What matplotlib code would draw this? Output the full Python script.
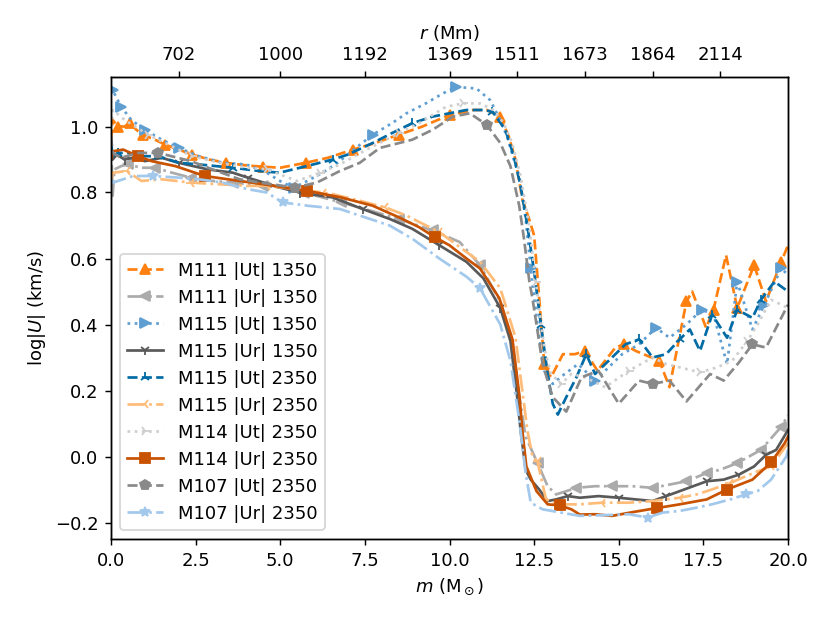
import numpy as np
import matplotlib
matplotlib.use('Agg')
import matplotlib.pyplot as plt

# mass coordinate (M_sun) and log|U|, one pair per run
m111_ut_1350_m = [0.0, 0.05, 0.2, 0.4, 0.56, 0.75, 0.94, 1.3, 1.6, 2.0, 2.4, 2.9, 3.4, 4.0, 4.5, 5.0, 5.75, 6.4,
                  7.15, 7.8, 8.5, 9.2, 10.0, 10.7, 11.1, 11.5, 11.75, 11.95, 12.15, 12.35, 12.5, 12.65, 12.8, 13.0,
                  13.35, 13.7, 14.0, 14.37, 14.9, 15.15, 15.5, 16.2, 16.5, 17.0, 17.17, 17.58, 17.8, 18.17, 18.5,
                  19.0, 19.35, 19.8, 20.0]
m111_ut_1350 = [0.96, 1.02, 1.0, 1.0, 1.01, 0.99, 0.975, 0.96, 0.945, 0.93, 0.915, 0.90, 0.89, 0.882, 0.878, 0.875,
                0.89, 0.905, 0.93, 0.95, 0.975, 1.0, 1.035, 1.05, 1.05, 1.03, 0.97, 0.90, 0.78, 0.72, 0.67, 0.48,
                0.28, 0.24, 0.31, 0.31, 0.32, 0.26, 0.33, 0.34, 0.32, 0.29, 0.21, 0.47, 0.50, 0.39, 0.445, 0.61,
                0.45, 0.58, 0.47, 0.59, 0.64]

m111_ur_1350_m = [0.0, 0.05, 0.1, 0.3, 0.5, 0.9, 1.3, 1.8, 2.36, 3.0, 3.6, 4.5, 5.0, 5.7, 6.8, 7.5, 8.5, 9.5, 10.3,
                  10.9, 11.5, 11.85, 12.05, 12.25, 12.6, 12.9, 13.15, 13.75, 14.3, 14.8, 15.4, 16.0, 16.5, 17.0,
                  17.6, 18.0, 18.5, 19.2, 19.8, 20.0]
m111_ur_1350 = [0.97, 0.79, 0.87, 0.88, 0.885, 0.875, 0.875, 0.86, 0.845, 0.835, 0.83, 0.82, 0.815, 0.80, 0.77,
                0.75, 0.72, 0.685, 0.65, 0.58, 0.47, 0.35, 0.19, 0.06, -0.02, -0.09, -0.115, -0.095, -0.09, -0.09,
                -0.09, -0.095, -0.085, -0.075, -0.05, -0.04, -0.02, 0.02, 0.09, 0.125]

m115_ut_1350_m = [0.0, 0.05, 0.3, 0.6, 1.0, 1.5, 2.0, 2.6, 3.3, 4.0, 4.6, 5.07, 5.4, 5.8, 6.25, 6.7, 7.05, 7.73, 8.3,
                  8.73, 9.3, 9.8, 10.2, 10.8, 11.2, 11.45, 11.7, 11.9, 12.06, 12.25, 12.4, 12.6, 12.8, 13.05, 13.4,
                  13.8, 14.3, 14.7, 15.1, 15.6, 16.1, 16.5, 17.0, 17.45, 17.8, 18.2, 18.5, 18.95, 19.3, 19.8, 20.0]
m115_ut_1350 = [1.12, 1.11, 1.06, 1.02, 0.99, 0.96, 0.935, 0.91, 0.89, 0.885, 0.86, 0.83, 0.815, 0.835, 0.86, 0.89,
                0.92, 0.975, 1.01, 1.04, 1.07, 1.10, 1.12, 1.115, 1.08, 1.03, 0.97, 0.90, 0.85, 0.72, 0.57, 0.40,
                0.26, 0.22, 0.25, 0.28, 0.23, 0.27, 0.31, 0.34, 0.39, 0.36, 0.40, 0.445, 0.43, 0.28, 0.53, 0.385,
                0.46, 0.57, 0.55]

m115_ur_1350_m = [0.0, 0.05, 0.17, 0.4, 0.65, 1.0, 1.5, 2.0, 2.86, 3.6, 4.04, 4.98, 5.57, 6.55, 7.43, 8.23, 8.9,
                  9.7, 10.5, 11.0, 11.5, 11.8, 12.0, 12.1, 12.25, 12.4, 12.65, 12.9, 13.15, 13.5, 13.85, 14.4, 15.0,
                  15.5, 16.0, 16.4, 16.8, 17.2, 17.6, 18.1, 18.55, 19.0, 19.35, 19.65, 20.0]
m115_ur_1350 = [0.93, 0.90, 0.915, 0.90, 0.905, 0.895, 0.905, 0.89, 0.87, 0.86, 0.845, 0.815, 0.80, 0.785, 0.75,
                0.72, 0.69, 0.64, 0.59, 0.54, 0.45, 0.35, 0.18, 0.08, -0.04, -0.07, -0.10, -0.135, -0.13, -0.12,
                -0.125, -0.12, -0.125, -0.13, -0.135, -0.12, -0.105, -0.09, -0.075, -0.07, -0.055, -0.03, 0.005,
                0.02, 0.08]

m115_ut_2350_m = [0.0, 0.05, 0.2, 0.5, 0.8, 1.4, 2.0, 2.6, 3.6, 4.4, 4.98, 5.78, 6.55, 7.0, 7.73, 8.3, 8.9, 9.5,
                  10.0, 10.5, 11.0, 11.27, 11.65, 11.9, 12.1, 12.3, 12.5, 12.7, 12.9, 13.05, 13.2, 13.45, 13.75,
                  14.04, 14.3, 14.8, 15.2, 15.6, 16.0, 16.4, 16.8, 17.1, 17.4, 17.76, 18.2, 18.5, 18.95, 19.2, 19.6,
                  20.0]
m115_ut_2350 = [0.95, 0.91, 0.92, 0.92, 0.91, 0.91, 0.89, 0.885, 0.875, 0.865, 0.86, 0.88, 0.90, 0.915, 0.95, 0.98,
                1.01, 1.03, 1.04, 1.05, 1.05, 1.045, 0.99, 0.91, 0.82, 0.70, 0.56, 0.40, 0.25, 0.16, 0.127, 0.18,
                0.24, 0.31, 0.25, 0.30, 0.34, 0.355, 0.30, 0.31, 0.355, 0.385, 0.32, 0.43, 0.36, 0.445, 0.42, 0.475,
                0.53, 0.50]

m115_ur_2350_m = [0.0, 0.06, 0.47, 0.9, 1.5, 2.36, 3.2, 4.04, 4.6, 5.5, 6.25, 6.55, 7.35, 8.1, 8.73, 9.7, 10.3,
                  10.9, 11.5, 11.95, 12.15, 12.3, 12.45, 12.6, 12.85, 13.2, 13.85, 14.5, 15.3, 16.0, 16.8, 17.3,
                  17.75, 18.3, 18.75, 19.1, 19.5, 20.0]
m115_ur_2350 = [0.84, 0.86, 0.865, 0.835, 0.84, 0.83, 0.825, 0.82, 0.82, 0.81, 0.80, 0.795, 0.775, 0.755, 0.73,
                0.68, 0.635, 0.59, 0.51, 0.36, 0.20, 0.08, 0.0, -0.015, -0.13, -0.145, -0.145, -0.14, -0.14, -0.135,
                -0.125, -0.115, -0.10, -0.08, -0.06, -0.045, -0.03, 0.04]

m114_ut_2350_m = [0.0, 0.06, 0.4, 1.1, 1.8, 2.4, 3.2, 4.0, 4.6, 5.5, 6.17, 6.76, 7.55, 7.94, 8.5, 9.1, 9.9, 10.4,
                  10.9, 11.3, 11.6, 11.85, 12.1, 12.35, 12.55, 12.8, 13.0, 13.3, 13.6, 14.0, 14.6, 15.3, 16.0, 16.4,
                  16.8, 17.4, 17.9, 18.35, 18.8, 19.1, 19.5, 20.0]
m114_ut_2350 = [1.0, 1.05, 1.02, 0.975, 0.94, 0.91, 0.89, 0.875, 0.87, 0.835, 0.86, 0.885, 0.93, 0.95, 0.98, 1.01,
                1.06, 1.07, 1.07, 1.05, 1.01, 0.95, 0.85, 0.70, 0.53, 0.33, 0.25, 0.22, 0.25, 0.24, 0.21, 0.26,
                0.30, 0.28, 0.27, 0.255, 0.27, 0.29, 0.35, 0.40, 0.475, 0.45]

m114_ur_2350_m = [0.0, 0.06, 0.36, 0.8, 1.2, 1.9, 2.77, 3.8, 4.5, 5.8, 6.8, 7.73, 8.5, 9.1, 9.56, 10.0, 10.5, 10.9,
                  11.47, 11.86, 12.07, 12.15, 12.27, 12.57, 12.9, 13.25, 13.6, 13.85, 14.3, 14.8, 15.5, 16.14, 16.8,
                  17.6, 18.2, 18.95, 19.5, 19.9, 20.0]
m114_ur_2350 = [0.90, 0.925, 0.93, 0.91, 0.895, 0.88, 0.85, 0.835, 0.825, 0.805, 0.785, 0.76, 0.725, 0.695, 0.665,
                0.64, 0.60, 0.57, 0.48, 0.355, 0.18, 0.08, -0.03, -0.105, -0.145, -0.148, -0.16, -0.176, -0.175,
                -0.18, -0.167, -0.156, -0.145, -0.13, -0.10, -0.07, -0.018, 0.04, 0.06]

m107_ut_2350_m = [0.0, 0.05, 0.3, 0.8, 1.4, 2.36, 3.0, 3.8, 4.4, 5.43, 6.08, 6.76, 7.35, 7.94, 8.9, 9.5, 10.1, 10.6,
                  11.1, 11.5, 11.8, 12.06, 12.2, 12.36, 12.45, 12.75, 13.05, 13.45, 13.9, 14.4, 15.0, 15.6, 16.0,
                  16.5, 17.0, 17.7, 18.1, 18.55, 18.95, 19.35, 19.9, 20.0]
m107_ut_2350 = [0.97, 0.92, 0.905, 0.92, 0.92, 0.895, 0.87, 0.84, 0.83, 0.815, 0.83, 0.865, 0.89, 0.935, 0.96,
                0.99, 1.03, 1.04, 1.005, 0.95, 0.88, 0.76, 0.66, 0.53, 0.48, 0.28, 0.18, 0.136, 0.24, 0.26, 0.16,
                0.23, 0.22, 0.23, 0.167, 0.25, 0.23, 0.285, 0.34, 0.33, 0.44, 0.46]

m107_ur_2350_m = [0.0, 0.06, 0.65, 1.24, 2.0, 2.6, 3.3, 4.04, 4.6, 5.07, 5.8, 6.76, 7.35, 8.23, 8.9, 9.7, 10.5,
                  10.9, 11.5, 11.8, 12.06, 12.25, 12.4, 12.75, 13.3, 13.85, 14.5, 15.3, 15.85, 16.3, 16.8, 17.3,
                  17.75, 18.3, 18.75, 19.1, 19.5, 19.95, 20.0]
m107_ur_2350 = [0.84, 0.83, 0.85, 0.85, 0.845, 0.84, 0.83, 0.81, 0.80, 0.77, 0.76, 0.75, 0.73, 0.70, 0.66, 0.60,
                0.545, 0.51, 0.40, 0.29, 0.11, -0.05, -0.14, -0.16, -0.17, -0.18, -0.178, -0.175, -0.185, -0.17,
                -0.165, -0.155, -0.145, -0.13, -0.115, -0.105, -0.07, 0.0, 0.02]

# top axis: radius labels at given mass coordinates
r_tick_m = [2, 5, 7.5, 10, 12, 14, 16, 18]
r_tick_labels = ['702', '1000', '1192', '1369', '1511', '1673', '1864', '2114']

# (label, m, y, color, linestyle, marker, marker positions in m)
runs = [
    ('M111 |Ut| 1350', m111_ut_1350_m, m111_ut_1350, '#FF800E', '--', '^',
     [0.2, 0.56, 0.94, 1.6, 2.4, 3.4, 4.5, 5.75, 7.15, 8.5, 10.0, 11.5, 12.8, 14.0, 15.15, 16.2, 17.0, 17.8,
      18.5, 19.0, 19.8]),
    ('M111 |Ur| 1350', m111_ur_1350_m, m111_ur_1350, '#ABABAB', '-.', '<',
     [0.5, 1.3, 2.36, 3.6, 4.5, 5.7, 6.8, 8.5, 9.5, 10.9, 12.6, 13.75, 14.8, 16.0, 17.0, 17.6, 18.5, 19.2, 19.8]),
    ('M115 |Ut| 1350', m115_ut_1350_m, m115_ut_1350, '#5F9ED1', ':', '>',
     [0.05, 0.3, 1.0, 2.0, 5.4, 7.73, 10.2, 12.4, 14.3, 16.1, 17.45, 18.5, 19.3, 19.8]),
    ('M115 |Ur| 1350', m115_ur_1350_m, m115_ur_1350, '#595959', '-', '1',
     [0.4, 2.0, 4.04, 5.57, 7.43, 9.7, 11.5, 13.5, 15.0, 16.4, 17.6, 18.55, 19.35]),
    ('M115 |Ut| 2350', m115_ut_2350_m, m115_ut_2350, '#006BA4', '--', '2',
     [0.2, 1.4, 3.6, 6.55, 8.9, 11.27, 12.7, 14.04, 15.6, 16.8, 17.76, 18.5, 19.2]),
    ('M115 |Ur| 2350', m115_ur_2350_m, m115_ur_2350, '#FFBC79', '-.', '3',
     [0.47, 2.36, 4.6, 6.25, 8.1, 9.7, 12.6, 14.5, 16.8, 18.3, 19.5]),
    ('M114 |Ut| 2350', m114_ut_2350_m, m114_ut_2350, '#CFCFCF', ':', '4',
     [1.1, 2.4, 4.6, 6.17, 8.5, 10.4, 12.55, 13.3, 15.3, 17.4, 18.8]),
    ('M114 |Ur| 2350', m114_ur_2350_m, m114_ur_2350, '#C85200', '-', 's',
     [0.8, 2.77, 5.8, 9.56, 13.25, 16.14, 18.2, 19.5]),
    ('M107 |Ut| 2350', m107_ut_2350_m, m107_ut_2350, '#898989', '--', 'p',
     [1.4, 5.43, 11.1, 16.0, 18.95]),
    ('M107 |Ur| 2350', m107_ur_2350_m, m107_ur_2350, '#A2C8EC', '-.', '*',
     [1.24, 5.07, 10.9, 15.85, 18.75]),
]


def nearest_indices(m, where):
    m = np.asarray(m)
    return [int(np.argmin(np.abs(m - w))) for w in where]


fig, ax = plt.subplots(figsize=(830 / 130, 623 / 130), dpi=130)
fig.subplots_adjust(left=111 / 830, right=788 / 830, bottom=1 - 539 / 623, top=1 - 77 / 623)

for label, m, y, color, ls, marker, marks in runs:
    ax.plot(m, y, color=color, linestyle=ls, marker=marker, markevery=nearest_indices(m, marks),
            label=label, lw=1.5)

ax.set_xlim(0, 20)
ax.set_ylim(-0.25, 1.15)
ax.set_xlabel(r'$m$ (M$_\odot$)')
ax.set_ylabel(r'log$|U|$ (km/s)')
ax.legend(loc='lower left')

top = ax.twiny()
top.set_xlim(ax.get_xlim())
top.set_xticks(r_tick_m)
top.set_xticklabels(r_tick_labels)
top.set_xlabel(r'$r$ (Mm)')

fig.savefig('out.png', dpi=130)
